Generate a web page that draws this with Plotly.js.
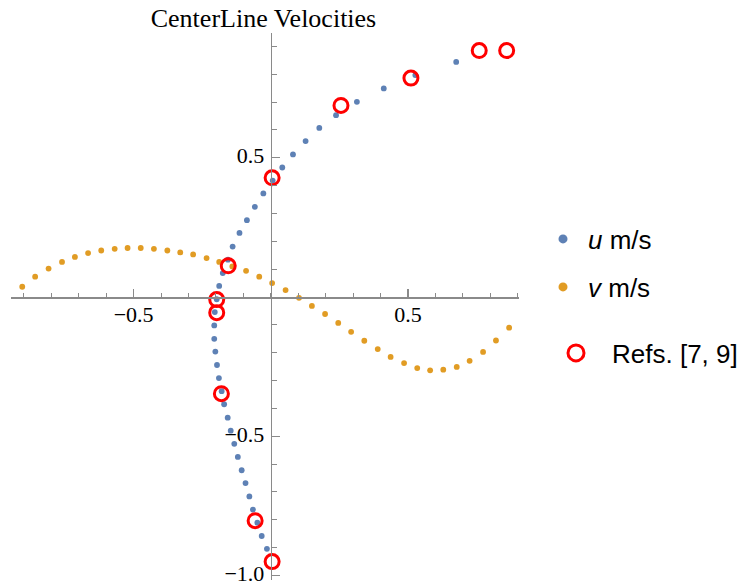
<!DOCTYPE html>
<html>
<head>
<meta charset="utf-8">
<script src="https://cdn.plot.ly/plotly-3.0.1.min.js"></script>
<style>html,body{margin:0;padding:0;background:#fff;}#chart{width:739px;height:584px;}</style>
</head>
<body>
<div id="chart"></div>
<script>
// u velocity along vertical centerline: (u, y)
const uX = [0.676, 0.527, 0.412, 0.314, 0.238, 0.177, 0.127, 0.081, 0.042, 0.007,
  -0.027, -0.058, -0.087, -0.114, -0.139, -0.156, -0.175, -0.188, -0.197, -0.204,
  -0.206, -0.206, -0.202, -0.196, -0.189, -0.179, -0.170, -0.157, -0.146, -0.133,
  -0.120, -0.106, -0.092, -0.078, -0.065, -0.049, -0.033, -0.014];
const uY = [0.844, 0.797, 0.749, 0.701, 0.653, 0.607, 0.560, 0.512, 0.465, 0.418,
  0.372, 0.324, 0.276, 0.230, 0.181, 0.134, 0.086, 0.040, -0.008, -0.054,
  -0.102, -0.150, -0.196, -0.244, -0.291, -0.338, -0.385, -0.433, -0.480, -0.527,
  -0.574, -0.622, -0.668, -0.716, -0.763, -0.810, -0.858, -0.904];
// v velocity along horizontal centerline: (x, v)
const vX = [-0.906, -0.859, -0.810, -0.761, -0.714, -0.666, -0.618, -0.569, -0.522, -0.474,
  -0.426, -0.377, -0.330, -0.283, -0.234, -0.188, -0.140, -0.090, -0.042, 0.005,
  0.054, 0.103, 0.150, 0.198, 0.246, 0.293, 0.341, 0.390, 0.437, 0.486,
  0.534, 0.581, 0.629, 0.678, 0.725, 0.774, 0.821, 0.869];
const vY = [0.037, 0.073, 0.102, 0.126, 0.144, 0.158, 0.167, 0.173, 0.176, 0.176,
  0.173, 0.167, 0.160, 0.153, 0.140, 0.126, 0.110, 0.094, 0.073, 0.050,
  0.025, -0.003, -0.032, -0.061, -0.093, -0.125, -0.157, -0.187, -0.215, -0.237,
  -0.255, -0.263, -0.261, -0.251, -0.229, -0.197, -0.156, -0.110];
// Reference data, Refs. [7, 9]
const refX = [0.760, 0.860, 0.511, 0.256, 0.005, -0.155, -0.197, -0.197, -0.180, -0.057, 0.005];
const refY = [0.885, 0.885, 0.786, 0.688, 0.428, 0.112, -0.009, -0.056, -0.347, -0.803, -0.950];

const seriesNames = ['<i>u</i> m/s', '<i>v</i> m/s', 'Refs. [7, 9]'];
const xTickVals = [-0.5, 0.5];
const xTickText = ['\u22120.5', '0.5'];
const yTickVals = [-1.0, -0.5, 0.5];
const yTickText = ['\u22121.0', '\u22120.5', '0.5'];
const xRange = [-0.947, 0.905];
const yRange = [-1.016, 0.948];

const BLUE = '#5E81B5', ORANGE = '#E19C24', RED = '#FF0000';
const AXC = '#8a8a8a';
const serif = 'Liberation Serif, Times New Roman, serif';
const sans = 'Liberation Sans, Arial, sans-serif';

const traces = [
  {x: uX, y: uY, mode: 'markers', type: 'scatter', marker: {size: 5.8, color: BLUE}, showlegend: false, hoverinfo: 'x+y'},
  {x: vX, y: vY, mode: 'markers', type: 'scatter', marker: {size: 5.8, color: ORANGE}, showlegend: false, hoverinfo: 'x+y'},
  {x: refX, y: refY, mode: 'markers', type: 'scatter', marker: {size: 14, symbol: 'circle-open', color: RED, line: {width: 3, color: RED}}, showlegend: false, hoverinfo: 'x+y'},
  // legend entries
  {x: [null], y: [null], mode: 'markers', type: 'scatter', name: seriesNames[0], marker: {size: 9, color: BLUE}, legend: 'legend'},
  {x: [null], y: [null], mode: 'markers', type: 'scatter', name: seriesNames[1], marker: {size: 9, color: ORANGE}, legend: 'legend2'},
  {x: [null], y: [null], mode: 'markers', type: 'scatter', name: seriesNames[2], marker: {size: 16, symbol: 'circle-open', color: RED, line: {width: 3, color: RED}}, legend: 'legend3'}
];

const legendBase = {xanchor: 'left', yanchor: 'middle', bgcolor: 'rgba(0,0,0,0)', borderwidth: 0,
  font: {family: sans, size: 26, color: '#000'}};

const layout = {
  width: 739, height: 584,
  margin: {l: 11, r: 220, t: 33, b: 4, pad: 0, autoexpand: false},
  paper_bgcolor: '#fff', plot_bgcolor: '#fff',
  title: {text: 'CenterLine Velocities', font: {family: serif, size: 26, color: '#000'},
    x: 263.5 / 739, xanchor: 'center', xref: 'container', y: 1 - 18 / 584, yanchor: 'middle', yref: 'container'},
  xaxis: {
    range: xRange, anchor: 'free', position: (0 - yRange[0]) / (yRange[1] - yRange[0]),
    showline: true, linecolor: AXC, linewidth: 1.5, showgrid: false, zeroline: false,
    ticks: 'inside', ticklen: 8, tickwidth: 1.2, tickcolor: AXC,
    tickmode: 'array', tickvals: xTickVals, ticktext: xTickText, ticklabelstandoff: -3,
    ticklabeloverflow: 'allow',
    minor: {ticks: 'inside', ticklen: 4.5, tickwidth: 1, tickcolor: AXC, tickmode: 'linear', tick0: 0, dtick: 0.1, showgrid: false},
    tickfont: {family: serif, size: 22, color: '#000'}, automargin: false, fixedrange: true
  },
  yaxis: {
    range: yRange, anchor: 'free', position: (0 - xRange[0]) / (xRange[1] - xRange[0]),
    showline: true, linecolor: AXC, linewidth: 1.5, showgrid: false, zeroline: false,
    ticks: 'inside', ticklen: 8, tickwidth: 1.2, tickcolor: AXC,
    tickmode: 'array', tickvals: yTickVals, ticktext: yTickText, ticklabelstandoff: 2,
    ticklabelshift: -2, ticklabeloverflow: 'allow',
    minor: {ticks: 'inside', ticklen: 4.5, tickwidth: 1, tickcolor: AXC, tickmode: 'linear', tick0: 0, dtick: 0.1, showgrid: false},
    tickfont: {family: serif, size: 22, color: '#000'}, automargin: false, fixedrange: true
  },
  legend: Object.assign({}, legendBase, {itemwidth: 40, x: (538 - 11) / 508, y: (580 - 239) / 547}),
  legend2: Object.assign({}, legendBase, {itemwidth: 40, x: (538 - 11) / 508, y: (580 - 287) / 547}),
  legend3: Object.assign({}, legendBase, {itemwidth: 62, x: (540 - 11) / 508, y: (580 - 353) / 547}),
  showlegend: true
};

Plotly.newPlot('chart', traces, layout, {displayModeBar: false, staticPlot: true});
</script>
</body>
</html>
